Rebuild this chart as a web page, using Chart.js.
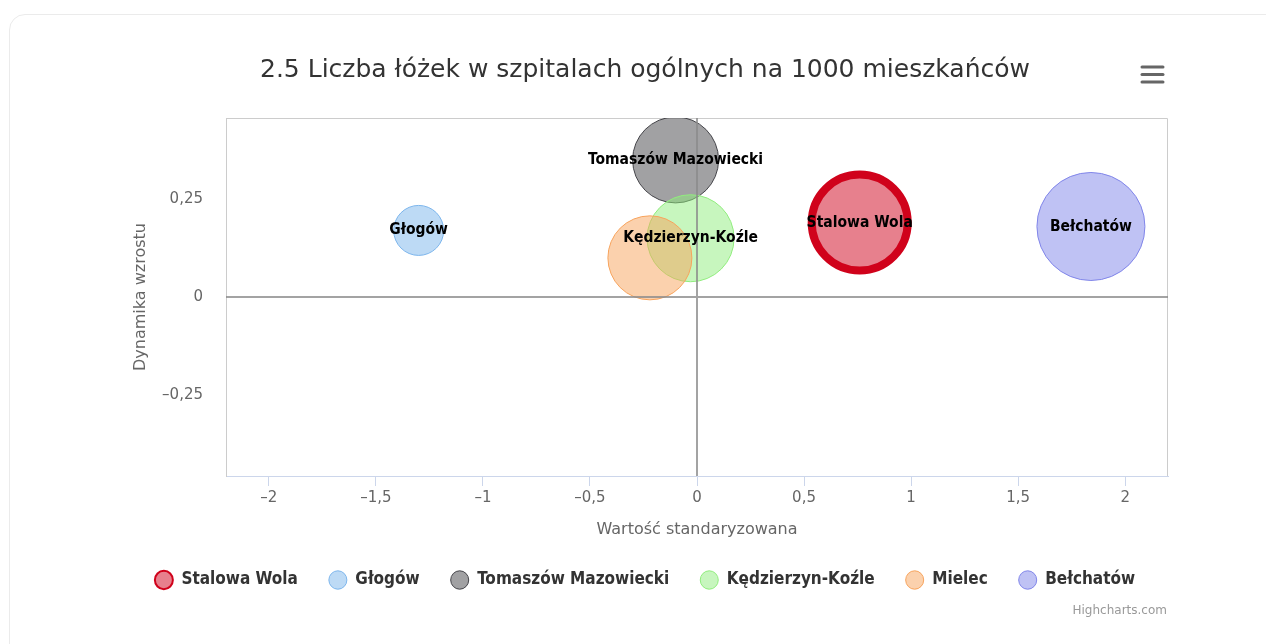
<!DOCTYPE html>
<html>
<head>
<meta charset="utf-8">
<script src="https://cdn.jsdelivr.net/npm/chart.js@4.4.0/dist/chart.umd.min.js"></script>
<style>
html, body { margin:0; padding:0; background:#fff; width:1266px; height:644px; overflow:hidden; }
#card { position:absolute; left:9px; top:14px; width:1320px; height:720px; border:1px solid #ebebeb; border-radius:16px; box-sizing:border-box; background:#fff; }
#c { position:absolute; left:10px; top:15px; }
#credits { position:absolute; left:1017px; top:603px; width:150px; text-align:right; font:12px 'DejaVu Sans', sans-serif; color:#999; }
</style>
</head>
<body>
<div id="card"></div>
<canvas id="c" width="1270" height="629"></canvas>
<span id="credits">Highcharts.com</span>
<script>
// dane
var names = ['Stalowa Wola', 'Głogów', 'Tomaszów Mazowiecki', 'Kędzierzyn-Koźle', 'Mielec', 'Bełchatów'];
var xValues = [0.76, -1.30, -0.10, -0.03, -0.22, 1.84];
var yValues = [0.19, 0.17, 0.35, 0.15, 0.10, 0.18];
var bubbleSizes = [48, 25, 43, 43.5, 42, 54];
var xTicks = [-2, -1.5, -1, -0.5, 0, 0.5, 1, 1.5, 2];
var yTicks = [-0.25, 0, 0.25];
var unlabelled = ['Mielec']; // etykieta ukryta w oryginale (nakłada się)

var colors = ['#d0021b', '#7cb5ec', '#434348', '#90ed7d', '#f7a35c', '#8085e9'];

function fade(hex, a) {
    var n = parseInt(hex.slice(1), 16);
    return 'rgba(' + (n >> 16) + ',' + ((n >> 8) & 255) + ',' + (n & 255) + ',' + a + ')';
}
function fmt(v) {
    return (v < 0 ? '\u2013' : '') + String(Math.abs(v)).replace('.', ',');
}

var datasets = names.map(function (name, i) {
    return {
        label: name,
        data: [{x: xValues[i], y: yValues[i], r: bubbleSizes[i]}],
        backgroundColor: fade(colors[i], 0.5),
        borderColor: colors[i],
        borderWidth: i === 0 ? 8 : 1,
        hoverBorderWidth: i === 0 ? 8 : 1,
        order: names.length - i
    };
});

var condensed = "'DejaVu Sans Condensed', 'DejaVu Sans', sans-serif";

var frame = {
    id: 'frame',
    beforeDatasetsDraw: function (chart) {
        var a = chart.chartArea, ctx = chart.ctx;
        ctx.save();
        ctx.strokeStyle = '#cccccc';
        ctx.lineWidth = 1;
        ctx.beginPath();
        ctx.moveTo(a.left + 0.5, a.bottom);
        ctx.lineTo(a.left + 0.5, a.top + 0.5);
        ctx.lineTo(a.right - 0.5, a.top + 0.5);
        ctx.lineTo(a.right - 0.5, a.bottom);
        ctx.stroke();
        ctx.restore();
    },
    afterDatasetsDraw: function (chart) {
        var a = chart.chartArea, ctx = chart.ctx;
        var x0 = chart.scales.x.getPixelForValue(0);
        var y0 = chart.scales.y.getPixelForValue(0);
        ctx.save();
        // linie zerowe nad bąblami
        ctx.strokeStyle = 'rgba(140,140,140,0.8)';
        ctx.lineWidth = 2;
        ctx.beginPath();
        ctx.moveTo(a.left, y0);
        ctx.lineTo(a.right, y0);
        ctx.moveTo(x0, a.top);
        ctx.lineTo(x0, a.bottom);
        ctx.stroke();

        ctx.font = 'bold 15.5px ' + condensed;
        ctx.fillStyle = '#000';
        ctx.textAlign = 'center';
        ctx.textBaseline = 'middle';
        chart.data.datasets.forEach(function (ds, i) {
            if (unlabelled.indexOf(ds.label) >= 0) return;
            var el = chart.getDatasetMeta(i).data[0];
            ctx.fillText(ds.label, el.x, el.y);
        });
        ctx.restore();
    },
    afterDraw: function (chart) {
        // menu
        var ctx = chart.ctx;
        ctx.save();
        ctx.strokeStyle = '#666';
        ctx.lineWidth = 3;
        ctx.lineCap = 'round';
        [52, 59.5, 67].forEach(function (y) {
            ctx.beginPath();
            ctx.moveTo(1132, y);
            ctx.lineTo(1153, y);
            ctx.stroke();
        });
        ctx.restore();
    }
};

Chart.defaults.font.family = "'DejaVu Sans', sans-serif";
Chart.defaults.color = '#666';

new Chart(document.getElementById('c'), {
    type: 'bubble',
    data: {datasets: datasets},
    options: {
        responsive: false,
        animation: false,
        layout: {padding: {top: 0, left: 0, right: 0, bottom: 45.5}},
        plugins: {
            title: {
                display: true,
                text: '2.5 Liczba łóżek w szpitalach ogólnych na 1000 mieszkańców',
                color: '#333',
                font: {size: 25, weight: 'normal'},
                padding: {top: 40, bottom: 33}
            },
            legend: {
                position: 'bottom',
                labels: {
                    usePointStyle: true,
                    pointStyleWidth: 18,
                    boxHeight: 13,
                    padding: 31,
                    color: '#333',
                    font: {size: 17, weight: 'bold', family: condensed},
                    generateLabels: function (chart) {
                        return chart.data.datasets.map(function (ds, i) {
                            return {
                                text: ds.label,
                                fillStyle: ds.backgroundColor,
                                strokeStyle: ds.borderColor,
                                lineWidth: i === 0 ? 2 : 1,
                                pointStyle: 'circle',
                                fontColor: '#333',
                                hidden: !chart.isDatasetVisible(i),
                                datasetIndex: i
                            };
                        });
                    }
                }
            },
            tooltip: {enabled: false}
        },
        scales: {
            x: {
                type: 'linear',
                min: -2.2,
                max: 2.2,
                afterBuildTicks: function (s) { s.ticks = xTicks.map(function (v) { return {value: v}; }); },
                afterFit: function (s) { s.height = 64.5; },
                grid: {drawOnChartArea: false, drawTicks: true, tickLength: 10, tickColor: '#ccd6eb', tickWidth: 1},
                border: {display: true, color: '#ccd6eb', width: 1},
                ticks: {padding: 3, color: '#666', font: {size: 15}, maxRotation: 0, autoSkip: false, callback: fmt},
                title: {display: true, text: 'Wartość standaryzowana', color: '#666', font: {size: 16}, padding: {top: 0, bottom: 1}}
            },
            y: {
                type: 'linear',
                min: -0.457,
                max: 0.457,
                afterBuildTicks: function (s) { s.ticks = yTicks.map(function (v) { return {value: v}; }); },
                afterFit: function (s) { s.width = 216; },
                grid: {drawOnChartArea: false, drawTicks: false, tickLength: 0},
                border: {display: true, color: '#cccccc', width: 1},
                ticks: {padding: 23, color: '#666', font: {size: 15}, callback: fmt},
                title: {display: true, text: 'Dynamika wzrostu', color: '#666', font: {size: 16}, padding: {top: 121, bottom: 0}}
            },
            rightPad: {
                type: 'linear',
                position: 'right',
                display: true,
                afterFit: function (s) { s.width = 112; },
                grid: {display: false},
                border: {display: false},
                ticks: {display: false}
            }
        }
    },
    plugins: [frame]
});
</script>
</body>
</html>
